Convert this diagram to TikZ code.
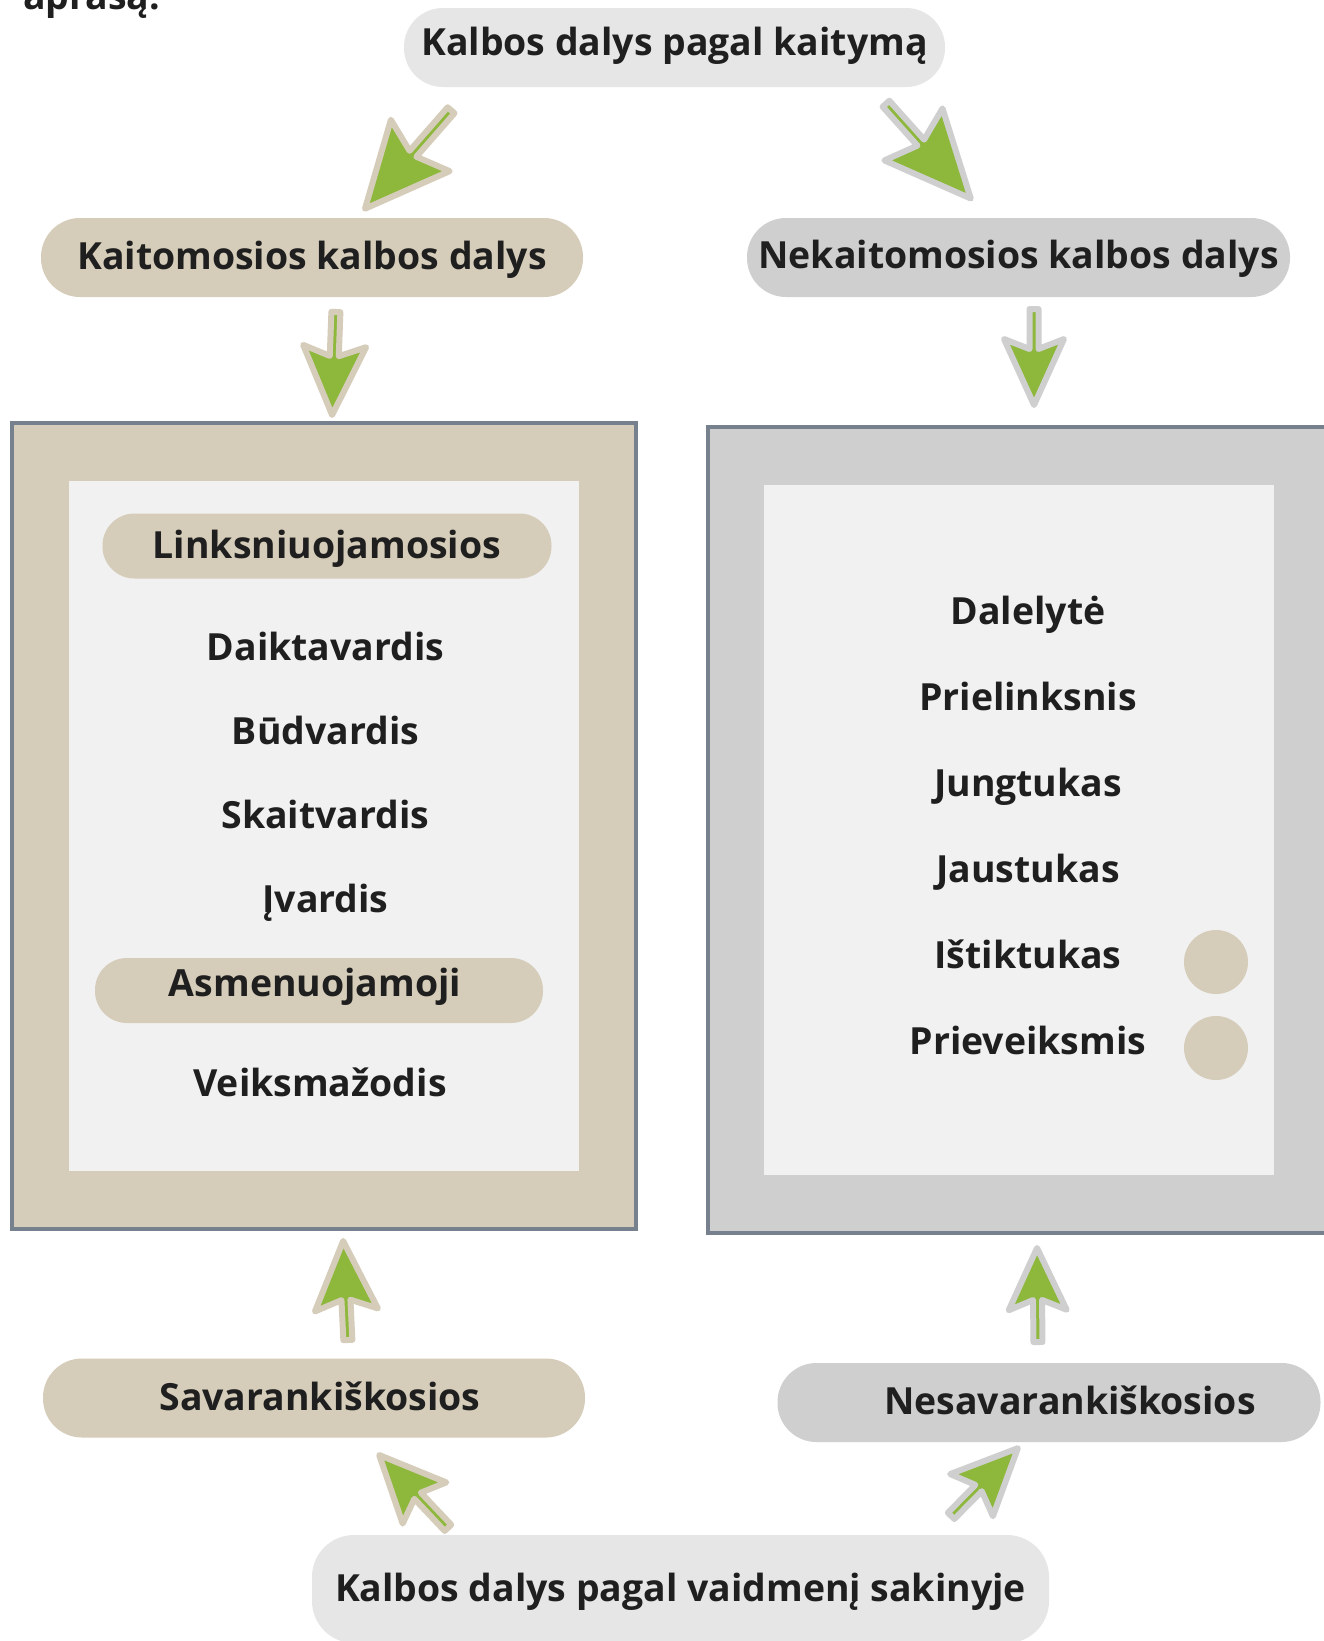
\documentclass[tikz,border=0pt]{standalone}
\usepackage{fontspec}
\setmainfont{Open Sans}
\usetikzlibrary{calc}
\definecolor{tanc}{HTML}{D5CCB9}
\definecolor{grayc}{HTML}{CFCFCF}
\definecolor{lightc}{HTML}{E6E6E6}
\definecolor{panelc}{HTML}{F1F1F1}
\definecolor{borderc}{HTML}{76818D}
\definecolor{greenc}{HTML}{8DB83C}
\definecolor{txtc}{HTML}{1F1F1F}
\newdimen\fadx \newdimen\fady
\newcommand\fatarrow[6][]{%
  \pgfextractx{\fadx}{\pgfpointdiff{\pgfpointanchor{#2}{center}}{\pgfpointanchor{#3}{center}}}%
  \pgfextracty{\fady}{\pgfpointdiff{\pgfpointanchor{#2}{center}}{\pgfpointanchor{#3}{center}}}%
  \pgfmathsetmacro\farang{atan2(\fady,\fadx)}%
  \pgfmathsetmacro\farlen{veclen(\fadx,\fady)}%
  \filldraw[fatarr,#1,shift={(#2)},rotate=\farang]
    (3,-4.5) -- ({\farlen-3-#4+#6},-4.5) -- ({\farlen-3-#4},{-#5/2}) -- ({\farlen-3},0)
    -- ({\farlen-3-#4},{#5/2}) -- ({\farlen-3-#4+#6},4.5) -- (3,4.5) -- cycle;
}
\tikzset{
  lbl/.style={font=\fontsize{37.4}{44}\selectfont\bfseries, text=txtc, inner sep=0,
              text height=27, text depth=8},
  pill/.style={lbl, minimum height=79, rounded corners=39},
  smallpill/.style={lbl, minimum height=65, rounded corners=32},
  fatarr/.style={fill=greenc, line width=6, line join=round},
  tanarr/.style={draw=tanc},
  grayarr/.style={draw=grayc},
  outerbox/.style={draw=borderc, line width=4},
  panel/.style={fill=panelc},
}
\begin{document}
\begin{tikzpicture}[x=1pt,y=-1pt]
\useasboundingbox (0,0) rectangle (1324,1641);
\begin{scope}
\clip (0,0) rectangle (1324,1641);
\fill[white] (0,0) rectangle (1324,1641);
\node[lbl, anchor=base west] (intro) at (23,9) {aprašą.};
% big boxes
\filldraw[outerbox, fill=tanc] (11.5,423) rectangle (636,1229);
\fill[panel] (69,481) rectangle (579,1171);
\filldraw[outerbox, fill=grayc] (707.5,427) rectangle (1345,1233);
\fill[panel] (764,485) rectangle (1274,1175);
% pills
\node[pill, fill=lightc, minimum width=541] (top) at (674.5,47.5) {\raisebox{2pt}{Kalbos dalys pagal kaitymą}};
\node[pill, fill=tanc, minimum width=542] (kait) at (312,257.5) {\raisebox{-2pt}{Kaitomosios kalbos dalys}};
\node[pill, fill=grayc, minimum width=543] (nekait) at (1018.5,257.5) {\raisebox{-1pt}{Nekaitomosios kalbos dalys}};
\node[smallpill, fill=tanc, minimum width=449] (links) at (327,546) {\raisebox{-3pt}{Linksniuojamosios}};
\node[smallpill, fill=tanc, minimum width=448] (asm) at (319,990.5) {\raisebox{4pt}{Asmenuojamoji}\hspace*{8pt}};
\node[pill, fill=tanc, minimum width=542] (sav) at (314,1398) {\raisebox{-3pt}{\hspace*{12pt}Savarankiškosios}};
\node[pill, fill=grayc, minimum width=543] (nesav) at (1049,1402.5) {\raisebox{-2pt}{\hspace*{42pt}Nesavarankiškosios}};
\node[lbl, fill=lightc, minimum width=737, minimum height=108, rounded corners=42] (bottom) at (680.5,1589) {\raisebox{-3pt}{Kalbos dalys pagal vaidmenį sakinyje}};
% left items
\node[lbl] (daikt) at (325.5,651) {Daiktavardis};
\node[lbl] (budv) at (325.5,735) {Būdvardis};
\node[lbl] (skait) at (325.5,819) {Skaitvardis};
\node[lbl] (ivard) at (325.5,903) {Įvardis};
\node[lbl] (veiks) at (320,1087) {Veiksmažodis};
% right items
\node[lbl] (dalel) at (1028,615) {Dalelytė};
\node[lbl] (priel) at (1028,701) {Prielinksnis};
\node[lbl] (jungt) at (1028,787) {Jungtukas};
\node[lbl] (jaust) at (1028,873) {Jaustukas};
\node[lbl] (istikt) at (1028,959) {Ištiktukas};
\node[lbl] (priev) at (1028,1045) {Prieveiksmis};
\node[circle, fill=tanc, minimum size=64, inner sep=0] (c1) at (1216,962) {};
\node[circle, fill=tanc, minimum size=64, inner sep=0] (c2) at (1216,1048) {};
% arrow coordinates
\coordinate (a1s) at (453,108);  \coordinate (a1e) at (363,211);
\coordinate (a2s) at (884,101.5); \coordinate (a2e) at (973,201);
\coordinate (a3s) at (336,309);  \coordinate (a3e) at (332,418);
\coordinate (a4s) at (1034,306); \coordinate (a4e) at (1034,408);
\coordinate (a5s) at (348,1343); \coordinate (a5e) at (343,1238);
\coordinate (a6s) at (1038,1345); \coordinate (a6e) at (1037,1245);
\coordinate (a7s) at (450,1530); \coordinate (a7e) at (377,1452.7);
\coordinate (a8s) at (949,1518); \coordinate (a8e) at (1020,1446);
\fatarrow[tanarr]{a1s}{a1e}{84}{78}{11}
\fatarrow[grayarr]{a2s}{a2e}{86}{78}{11}
\fatarrow[tanarr]{a3s}{a3e}{69}{63}{10}
\fatarrow[grayarr]{a4s}{a4e}{66}{60}{10}
\fatarrow[tanarr]{a5s}{a5e}{69}{63}{10}
\fatarrow[grayarr]{a6s}{a6e}{62}{58}{10}
\fatarrow[tanarr]{a7s}{a7e}{66}{60}{10}
\fatarrow[grayarr]{a8s}{a8e}{66}{60}{10}
\end{scope}
\end{tikzpicture}
\end{document}
